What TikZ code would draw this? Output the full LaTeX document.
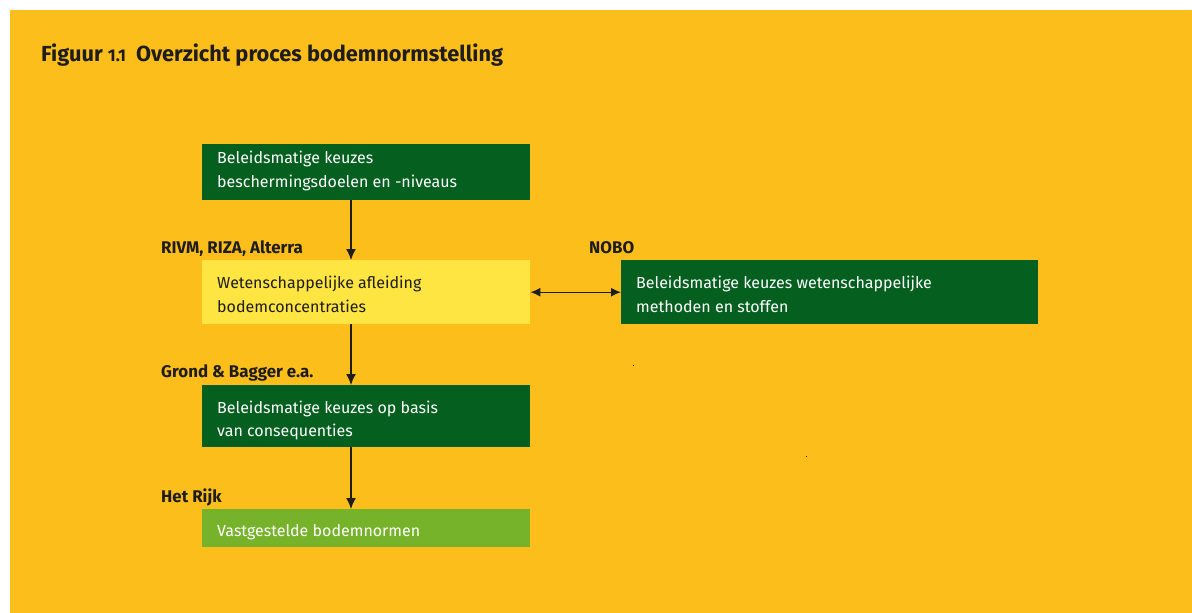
\documentclass[tikz,border=0pt]{standalone}
\usepackage{fontspec}
\setmainfont{Fira Sans}
\usetikzlibrary{arrows.meta,calc}
\definecolor{bg}{RGB}{252,190,26}
\definecolor{darkgreen}{RGB}{5,96,32}
\definecolor{paleyellow}{RGB}{255,229,66}
\definecolor{leafgreen}{RGB}{118,178,42}
\definecolor{ink}{RGB}{30,28,28}
\tikzset{
  panel/.style={rectangle, inner sep=0pt, anchor=north west, minimum width=328pt},
  % the node baseline of a multi-line text is its last line
  boxtext/.style={anchor=base west, inner sep=0pt, align=left,
    font=\fontsize{16}{24}\selectfont},
  lighttext/.style={boxtext, text=white},
  darktext/.style={boxtext, text=ink},
  actor/.style={anchor=base west, inner sep=0pt, text=ink,
    font=\bfseries\fontsize{16.9}{20}\selectfont},
  flow/.style={draw=ink, line width=1.4pt, -{Latex[length=11pt,width=10pt]}},
  biflow/.style={draw=ink, line width=1.4pt, {Latex[length=10pt,width=9pt]}-{Latex[length=10pt,width=9pt]}}
}
\begin{document}
\begin{tikzpicture}[x=1pt,y=-1pt]
\useasboundingbox (0,0) rectangle (1192,613);
\fill[white] (0,0) rectangle (1192,613);
\fill[bg] (10,10) rectangle (1192,613);

% title (figure number in small, old-style-like figures)
\node[anchor=base west, inner sep=0pt, text=ink,
  font=\bfseries\fontsize{21.8}{26}\selectfont] (title) at (41,61)
  {Figuur {\fontsize{17}{20}\selectfont 1.1}\hspace{10pt}Overzicht proces bodemnormstelling};

% panels
\node[panel, fill=darkgreen,  minimum height=56pt] (b1) at (202,144) {};
\node[panel, fill=paleyellow, minimum height=64pt] (b2) at (202,260) {};
\node[panel, fill=darkgreen,  minimum height=64pt, minimum width=417pt] (b3) at (621,260) {};
\node[panel, fill=darkgreen,  minimum height=62pt] (b4) at (202,385) {};
\node[panel, fill=leafgreen,  minimum height=38pt] (b5) at (202,509) {};

% panel texts, placed by the baseline of their last line
\node[lighttext] (t1) at ($(b1.north west)+(15,43.5)$) {Beleidsmatige keuzes\\beschermingsdoelen en -niveaus};
\node[darktext]  (t2) at ($(b2.north west)+(15,52)$)   {Wetenschappelijke afleiding\\bodemconcentraties};
\node[lighttext] (t3) at ($(b3.north west)+(15,52)$)   {Beleidsmatige keuzes wetenschappelijke\\methoden en stoffen};
\node[lighttext, font=\fontsize{16}{23}\selectfont] (t4) at ($(b4.north west)+(15,51)$) {Beleidsmatige keuzes op basis\\van consequenties};
\node[lighttext] (t5) at ($(b5.north west)+(15,27)$)   {Vastgestelde bodemnormen};

% actors
\node[actor] (a1) at (161,253) {RIVM, RIZA, Alterra};
\node[actor] (a2) at (589,253) {NOBO};
\node[actor] (a3) at (161,377) {Grond \& Bagger e.a.};
\node[actor] (a4) at (161,502) {Het Rijk};

% connectors
\draw[flow] ($(b1.south west)+(149,0)$) -- ($(b2.north west)+(149,0)$);
\draw[flow] ($(b2.south west)+(149,0)$) -- ($(b4.north west)+(149,0)$);
\draw[flow] ($(b4.south west)+(149,0)$) -- ($(b5.north west)+(149,0)$);
\draw[biflow] (b2.east) -- (b3.west);

% stray specks
\fill[ink] (632.5,364.5) rectangle (634,366);
\fill[ink] (805.5,455.5) rectangle (807,457);
\end{tikzpicture}
\end{document}
